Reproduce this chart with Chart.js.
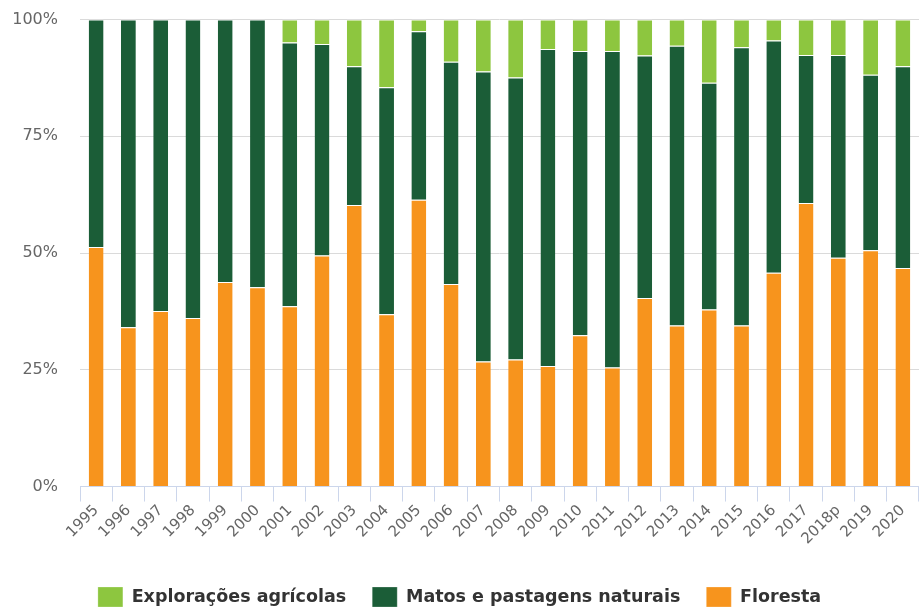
<!DOCTYPE html>
<html>
<head>
<meta charset="utf-8">
<script src="https://cdn.jsdelivr.net/npm/chart.js@4"></script>
<style>
  html, body { margin: 0; padding: 0; background: #fff; overflow: hidden; }
  #wrap { width: 919px; height: 622px; position: relative; top: -12px; }
</style>
</head>
<body>
<div id="wrap"><canvas id="ocupacao"></canvas></div>
<script>
// anos
const anos = ["1995", "1996", "1997", "1998", "1999", "2000", "2001", "2002", "2003", "2004",
  "2005", "2006", "2007", "2008", "2009", "2010", "2011", "2012", "2013", "2014",
  "2015", "2016", "2017", "2018p", "2019", "2020"];

// percentagens por tipo de ocupação
const floresta = [51.3, 34.1, 37.6, 36.1, 43.8, 42.7, 38.6, 49.5, 60.3, 36.9,
  61.4, 43.4, 26.8, 27.2, 25.8, 32.4, 25.5, 40.4, 34.5, 37.9,
  34.5, 45.8, 60.7, 49.0, 50.6, 46.8];
const matos = [48.7, 65.9, 62.4, 63.9, 56.2, 57.3, 56.5, 45.3, 29.7, 48.6,
  36.1, 47.6, 62.1, 60.4, 67.9, 60.9, 67.8, 51.9, 59.9, 48.6,
  59.6, 49.7, 31.7, 43.4, 37.6, 43.2];
const agricolas = [0, 0, 0, 0, 0, 0, 4.9, 5.2, 10.0, 14.5,
  2.5, 9.0, 11.1, 12.4, 6.3, 6.7, 6.7, 7.7, 5.6, 13.5,
  5.9, 4.5, 7.6, 7.6, 11.8, 10.0];

const yTicks = [0, 25, 50, 75, 100];

const cores = {
  floresta: "#f7941d",
  matos: "#1b5d37",
  agricolas: "#8dc63f"
};

function serie(label, data, cor) {
  return {
    label: label,
    data: data,
    backgroundColor: cor,
    borderColor: "#ffffff",
    borderWidth: { top: 1, left: 0, right: 0, bottom: 0 },
    borderSkipped: false,
    categoryPercentage: 1,
    barPercentage: 0.46
  };
}

new Chart(document.getElementById("ocupacao"), {
  type: "bar",
  data: {
    labels: anos,
    datasets: [
      serie("Floresta", floresta, cores.floresta),
      serie("Matos e pastagens naturais", matos, cores.matos),
      serie("Explorações agrícolas", agricolas, cores.agricolas)
    ]
  },
  options: {
    responsive: true,
    maintainAspectRatio: false,
    animation: false,
    layout: { padding: { top: 0, right: 0, bottom: -7, left: 0 } },
    plugins: {
      tooltip: { enabled: false },
      legend: {
        position: "bottom",
        reverse: true,
        labels: {
          boxWidth: 25,
          boxHeight: 20,
          padding: 26,
          color: "#333333",
          font: { family: "DejaVu Sans", size: 17.5, weight: "bold" }
        }
      }
    },
    scales: {
      x: {
        stacked: true,
        // espaço extra entre os anos e a legenda
        afterFit: (axis) => { axis.height += 13; },
        grid: {
          drawOnChartArea: false,
          drawTicks: true,
          tickLength: 15,
          color: "#ccd6eb",
          offset: true
        },
        border: { color: "#ccd6eb" },
        ticks: {
          color: "#666666",
          minRotation: 45,
          maxRotation: 45,
          autoSkip: false,
          padding: 0,
          font: { family: "DejaVu Sans", size: 15 }
        }
      },
      y: {
        stacked: true,
        min: 0,
        max: 100,
        afterBuildTicks: (axis) => {
          axis.ticks = yTicks.map(v => ({ value: v }));
        },
        afterFit: (axis) => { axis.width = 80; },
        grid: { color: "#dadada", drawTicks: false },
        border: { display: false },
        ticks: {
          color: "#666666",
          padding: 22,
          font: { family: "DejaVu Sans", size: 16 },
          callback: (v) => v + "%"
        }
      }
    }
  }
});
</script>
</body>
</html>
